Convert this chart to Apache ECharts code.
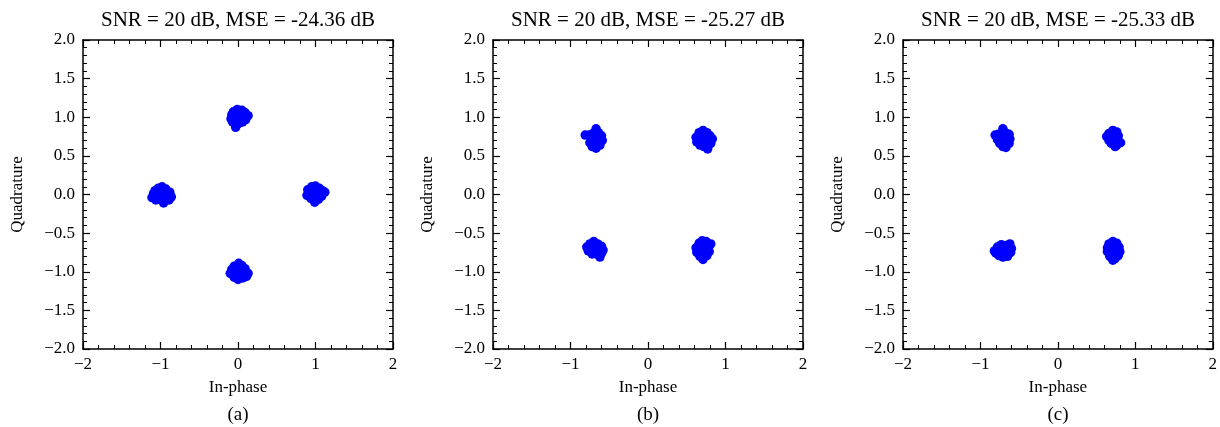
<!DOCTYPE html>
<html>
<head>
<meta charset="utf-8">
<script src="https://cdn.jsdelivr.net/npm/echarts@6/dist/echarts.min.js"></script>
<style>
  html, body { margin: 0; padding: 0; background: #fff; }
  #chart { width: 1220px; height: 427px; }
</style>
</head>
<body>
<div id="chart"></div>
<script>
// panel titles / captions
const titles = ['SNR = 20 dB, MSE = -24.36 dB', 'SNR = 20 dB, MSE = -25.27 dB', 'SNR = 20 dB, MSE = -25.33 dB'];
const captions = ['(a)', '(b)', '(c)'];

// received symbols (in-phase, quadrature)
const pointsA = [
  // near (0, 1)
  [-0.06,1.07],[-0.01,1.10],[0.05,1.09],[0.09,1.06],[0.13,1.02],[0.10,0.97],[0.06,0.94],[0.01,0.92],[-0.03,0.87],
  [-0.07,0.94],[-0.09,0.98],[-0.08,1.03],[-0.02,1.02],[0.03,1.00],[0.07,1.01],[0.00,0.97],[-0.04,0.96],[0.02,1.05],
  // near (-1, 0)
  [-1.07,0.05],[-1.03,0.08],[-0.98,0.10],[-0.93,0.07],[-0.88,0.03],[-0.86,-0.03],[-0.89,-0.07],[-0.96,-0.11],[-1.01,-0.06],
  [-1.06,-0.07],[-1.11,-0.04],[-1.09,0.01],[-1.02,0.01],[-0.96,0.02],[-0.94,-0.03],[-1.04,-0.02],[-1.00,0.04],
  // near (1, 0)
  [0.90,0.06],[0.95,0.10],[1.00,0.11],[1.05,0.08],[1.09,0.05],[1.12,0.03],[1.08,-0.02],[1.04,-0.06],[0.99,-0.10],
  [0.94,-0.05],[0.89,-0.01],[0.93,0.02],[0.98,0.03],[1.03,0.01],[0.97,-0.03],[1.02,0.05],
  // near (0, -1)
  [-0.05,-0.93],[0.01,-0.89],[0.05,-0.92],[0.09,-0.96],[0.13,-1.02],[0.11,-1.06],[0.06,-1.08],[0.00,-1.10],
  [-0.05,-1.07],[-0.10,-1.02],[-0.08,-0.97],[-0.02,-0.97],[0.03,-1.00],[0.07,-1.03],[-0.03,-1.03],[0.01,-1.05]
];

const pointsB = [
  [-0.81,0.77],[-0.76,0.77],[-0.71,0.79],[-0.67,0.85],[-0.64,0.80],[-0.60,0.76],[-0.59,0.70],[-0.62,0.64],
  [-0.67,0.60],[-0.72,0.62],[-0.75,0.67],[-0.73,0.72],[-0.68,0.70],[-0.64,0.73],[-0.70,0.66],[-0.66,0.65],
  [0.66,0.80],[0.71,0.83],[0.76,0.80],[0.80,0.76],[0.83,0.72],[0.81,0.66],[0.77,0.62],[0.77,0.59],
  [0.72,0.62],[0.67,0.64],[0.63,0.68],[0.62,0.74],[0.68,0.72],[0.73,0.73],[0.76,0.69],[0.70,0.68],
  [-0.79,-0.68],[-0.75,-0.64],[-0.70,-0.61],[-0.65,-0.64],[-0.60,-0.67],[-0.58,-0.72],[-0.60,-0.76],[-0.62,-0.81],
  [-0.67,-0.77],[-0.72,-0.77],[-0.77,-0.73],[-0.72,-0.70],[-0.67,-0.69],[-0.63,-0.72],[-0.69,-0.73],
  [0.66,-0.63],[0.70,-0.60],[0.75,-0.61],[0.81,-0.64],[0.78,-0.69],[0.79,-0.74],[0.76,-0.79],[0.71,-0.84],
  [0.67,-0.80],[0.63,-0.75],[0.62,-0.69],[0.67,-0.69],[0.72,-0.67],[0.74,-0.73],[0.69,-0.75]
];

const pointsC = [
  [-0.81,0.77],[-0.77,0.78],[-0.71,0.85],[-0.68,0.80],[-0.63,0.78],[-0.62,0.72],[-0.63,0.66],[-0.67,0.61],
  [-0.71,0.62],[-0.75,0.66],[-0.78,0.71],[-0.73,0.73],[-0.68,0.72],[-0.66,0.67],[-0.71,0.68],
  [0.63,0.75],[0.66,0.79],[0.71,0.83],[0.76,0.81],[0.78,0.76],[0.77,0.71],[0.81,0.67],[0.76,0.64],
  [0.74,0.62],[0.69,0.66],[0.66,0.70],[0.70,0.74],[0.73,0.71],[0.74,0.77],
  [-0.82,-0.73],[-0.78,-0.68],[-0.73,-0.65],[-0.67,-0.66],[-0.62,-0.64],[-0.60,-0.70],[-0.61,-0.75],[-0.65,-0.80],
  [-0.71,-0.81],[-0.76,-0.79],[-0.80,-0.76],[-0.74,-0.73],[-0.68,-0.72],[-0.66,-0.76],[-0.71,-0.70],
  [0.66,-0.64],[0.71,-0.61],[0.76,-0.63],[0.79,-0.68],[0.80,-0.74],[0.78,-0.79],[0.74,-0.83],[0.71,-0.85],
  [0.67,-0.80],[0.64,-0.74],[0.64,-0.69],[0.70,-0.68],[0.74,-0.72],[0.70,-0.76],[0.73,-0.66]
];

const panels = [pointsA, pointsB, pointsC];

const FONT = 'Liberation Serif';
const gridLefts = [83, 493, 903];
const gridTop = 40, gridW = 310, gridH = 309;

const minus = s => String(s).replace('-', '\u2212');

const tickStyle = {
  axisTick: { show: true, inside: true, length: 7, lineStyle: { color: '#000', width: 1.2 } },
  minorTick: { show: true, splitNumber: 5, length: 4, lineStyle: { color: '#000', width: 1 } },
  splitLine: { show: false },
  axisLine: { onZero: false, lineStyle: { color: '#000', width: 1.5 } },
};

const grid = [], xAxis = [], yAxis = [], series = [], title = [];

gridLefts.forEach((left, i) => {
  grid.push({ left: left, top: gridTop, width: gridW, height: gridH });

  // bottom x axis with labels
  xAxis.push(Object.assign({
    type: 'value', gridIndex: i, position: 'bottom', min: -2, max: 2, interval: 1,
    name: 'In-phase', nameLocation: 'middle', nameGap: 30,
    nameTextStyle: { fontFamily: FONT, fontSize: 17, color: '#000' },
    axisLabel: { fontFamily: FONT, fontSize: 17, color: '#000', margin: 7, formatter: v => minus(v) },
  }, tickStyle));
  // top x axis, ticks only
  xAxis.push(Object.assign({
    type: 'value', gridIndex: i, position: 'top', min: -2, max: 2, interval: 1,
    axisLabel: { show: false },
  }, tickStyle));

  // left y axis with labels
  yAxis.push(Object.assign({
    type: 'value', gridIndex: i, position: 'left', min: -2, max: 2, interval: 0.5,
    name: 'Quadrature', nameLocation: 'middle', nameGap: 57,
    nameTextStyle: { fontFamily: FONT, fontSize: 17, color: '#000' },
    axisLabel: { fontFamily: FONT, fontSize: 17, color: '#000', margin: 8, formatter: v => minus(v.toFixed(1)) },
  }, tickStyle));
  // right y axis, ticks only
  yAxis.push(Object.assign({
    type: 'value', gridIndex: i, position: 'right', min: -2, max: 2, interval: 0.5,
    axisLabel: { show: false },
  }, tickStyle));

  series.push({
    type: 'scatter',
    xAxisIndex: i * 2,
    yAxisIndex: i * 2,
    data: panels[i],
    symbol: 'circle',
    symbolSize: 9.5,
    itemStyle: { color: '#0000ff', opacity: 1 },
    animation: false,
  });

  title.push({
    text: titles[i], left: left + gridW / 2, top: 10, textAlign: 'center', padding: 0,
    textStyle: { fontFamily: FONT, fontSize: 21, fontWeight: 'normal', color: '#000' },
  });
  title.push({
    text: captions[i], left: left + gridW / 2, top: 406, textAlign: 'center', padding: 0,
    textStyle: { fontFamily: FONT, fontSize: 19, fontWeight: 'normal', color: '#000' },
  });
});

const myChart = echarts.init(document.getElementById('chart'), null, { renderer: 'canvas' });
myChart.setOption({
  backgroundColor: '#fff',
  animation: false,
  title: title,
  grid: grid,
  xAxis: xAxis,
  yAxis: yAxis,
  series: series,
});
</script>
</body>
</html>
